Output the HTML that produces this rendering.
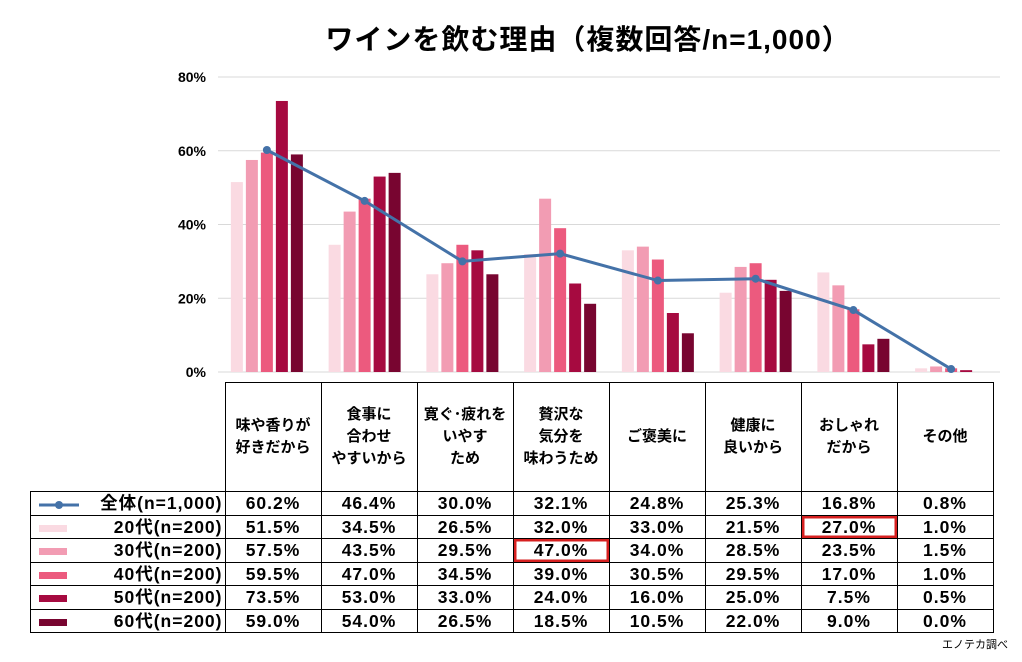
<!DOCTYPE html>
<html><head><meta charset="utf-8"><style>
body{margin:0;background:#fff;font-family:"Liberation Sans","Noto Sans CJK JP",sans-serif;}
#wrap{position:relative;width:1022px;height:662px;overflow:hidden;}
.title{position:absolute;top:18px;left:8px;width:1160px;text-align:center;font-size:28px;font-weight:bold;color:#000;letter-spacing:1px;}
table{position:absolute;border-collapse:collapse;font-weight:bold;}
td{border:1.5px solid #000;text-align:center;padding:0;}
tr.r td{height:22.5px;line-height:20px;font-size:17.5px;letter-spacing:1px;}
.note{position:absolute;right:14px;top:636px;font-size:11px;}
</style></head><body><div id="wrap">
<div class="title">ワインを飲む理由（複数回答/n=1,000）</div>
<svg id="svg" width="1022" height="662" style="position:absolute;left:0;top:0"></svg>
<table id="tbl" style="left:30px;top:382px"></table>
<div class="note">エノテカ調べ</div>
</div>
<script>
const categories=["味や香りが<br>好きだから","食事に<br>合わせ<br>やすいから","寛ぐ･疲れを<br>いやす<br>ため","贅沢な<br>気分を<br>味わうため","ご褒美に","健康に<br>良いから","おしゃれ<br>だから","その他"];
const seriesNames=["20代(n=200)","30代(n=200)","40代(n=200)","50代(n=200)","60代(n=200)"];
const s20=[51.5,34.5,26.5,32.0,33.0,21.5,27.0,1.0];
const s30=[57.5,43.5,29.5,47.0,34.0,28.5,23.5,1.5];
const s40=[59.5,47.0,34.5,39.0,30.5,29.5,17.0,1.0];
const s50=[73.5,53.0,33.0,24.0,16.0,25.0,7.5,0.5];
const s60=[59.0,54.0,26.5,18.5,10.5,22.0,9.0,0.0];
const total=[60.2,46.4,30.0,32.1,24.8,25.3,16.8,0.8];
const yTicks=[0,20,40,60,80];
const colors=["#fadae2","#f29cb3","#ec5a7e","#a60a40","#780530"];
const bars=[s20,s30,s40,s50,s60];
const NS="http://www.w3.org/2000/svg";
const svg=document.getElementById('svg');
const x0=218,x1=1000,y0=372,y80=77;
const band=(x1-x0)/categories.length;
const xc=i=>x0+band*(i+0.5);
const yv=v=>y0-(v/80)*(y0-y80);
function mk(t,a){const e=document.createElementNS(NS,t);for(const k in a)e.setAttribute(k,a[k]);svg.appendChild(e);return e;}
yTicks.forEach(t=>{
 const l=mk('line',{x1:x0,x2:x1,y1:yv(t),y2:yv(t),stroke:'#d9d9d9','stroke-width':1});
 
 
 const tx=mk('text',{x:206,y:yv(t)+5,'text-anchor':'end','font-size':14,'font-weight':'bold'});
 tx.textContent=t+'%';
 
 
});
bars.forEach((s,si)=>{s.forEach((v,i)=>{
 const r=mk('rect',{x:xc(i)-36+si*15,y:yv(v),width:12,height:y0-yv(v),fill:colors[si]});
 
 
});});
const pl=mk('polyline',{points:total.map((v,i)=>xc(i)+','+yv(v)).join(' '),fill:'none',stroke:'#4472a8','stroke-width':3});


total.forEach((v,i)=>{const c=mk('circle',{cx:xc(i),cy:yv(v),r:4,fill:'#4472a8'});
 
 });
const tbl=document.getElementById('tbl');
let h='<tr style="height:109px"><td style="border:none;border-bottom:1.5px solid #000;width:194px"></td>';
categories.forEach(c=>h+='<td style="width:95px;font-size:15px;line-height:22px">'+c+'</td>');
h+='</tr>';
const rows=[["全体(n=1,000)",total,"line"]].concat(seriesNames.map((n,i)=>[n,bars[i],colors[i]]));
const hi={"1-6":1,"2-3":1};
rows.forEach((r,ri)=>{
 h+='<tr class="r">';
 const sw=r[2]=="line"?'<svg width="52" height="12" style="vertical-align:middle"><line x1="4" x2="44" y1="6" y2="6" stroke="#4472a8" stroke-width="3"/><circle cx="24" cy="6" r="4" fill="#4472a8"/></svg>':'<span style="display:inline-block;width:28px;height:7px;background:'+r[2]+';margin:0 12px 0 4px;vertical-align:middle"></span>';
 h+='<td style="text-align:right;padding-right:2px;white-space:nowrap"><span style="float:left;margin-left:4px">'+sw+'</span>'+r[0]+'</td>';
 r[1].forEach((v,i)=>{const box=hi[ri+'-'+i]?'box-shadow:inset 0 0 0 2.5px #d62020;':'';
  h+='<td style="'+box+'">'+v.toFixed(1)+'%</td>';});
 h+='</tr>';
});
tbl.innerHTML=h;
</script></body></html>
